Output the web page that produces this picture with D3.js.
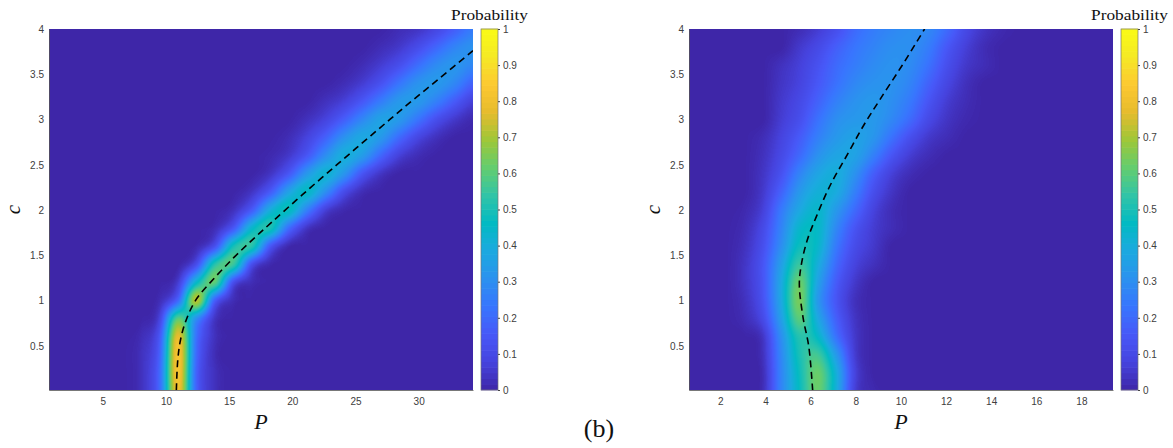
<!DOCTYPE html>
<html>
<head>
<meta charset="utf-8">
<script src="https://cdn.jsdelivr.net/npm/d3@7"></script>
<style>
  body { margin: 0; background: #fff; }
  svg { display: block; }
  .tick text { font-family: "Liberation Sans", Arial, sans-serif; font-size: 10px; fill: #404040; }
  .lbl { font-family: "Liberation Serif", "DejaVu Serif", serif; fill: #111; }
</style>
</head>
<body>
<div id="chart"></div>
<script>
// rows of the probability grid (c values)
var cLevels = [0, 0.2, 0.4, 0.6, 0.8, 1.0, 1.2, 1.4, 1.6, 1.8, 2.0, 2.2, 2.4, 2.6, 2.8, 3.0, 3.2, 3.4, 3.6, 3.8, 4.0];

// left panel: P nodes, first non-zero node per row
var leftP = [0.74, 2.20, 3.66, 5.12, 6.58, 8.04, 9.49, 10.95, 12.41, 13.87, 15.33, 16.79, 18.25, 19.71, 21.17, 22.63, 24.08, 25.54, 27.00, 28.46, 29.92, 31.38, 32.84, 34.30];
var leftStart = [5, 5, 5, 5, 6, 6, 7, 8, 8, 9, 10, 11, 12, 12, 13, 14, 15, 16, 17, 18, 19];
var leftVals = [
  [0.03, 0.20, 0.80, 0.18, 0.03],
  [0.03, 0.20, 0.82, 0.18, 0.03],
  [0.03, 0.18, 0.82, 0.20, 0.02],
  [0.02, 0.15, 0.78, 0.22, 0.03],
  [0.08, 0.60, 0.30, 0.04],
  [0.02, 0.20, 0.72, 0.17, 0.02],
  [0.06, 0.45, 0.60, 0.12, 0.02],
  [0.12, 0.52, 0.55, 0.12, 0.01],
  [0.01, 0.13, 0.49, 0.52, 0.15, 0.01],
  [0.02, 0.15, 0.44, 0.50, 0.21, 0.04],
  [0.03, 0.16, 0.40, 0.47, 0.26, 0.07, 0.01],
  [0.04, 0.16, 0.36, 0.45, 0.30, 0.11, 0.02],
  [0.04, 0.15, 0.33, 0.42, 0.32, 0.14, 0.04],
  [0.01, 0.05, 0.15, 0.30, 0.40, 0.34, 0.19, 0.07, 0.02],
  [0.02, 0.08, 0.18, 0.31, 0.38, 0.33, 0.20, 0.09, 0.03],
  [0.03, 0.08, 0.17, 0.28, 0.36, 0.33, 0.23, 0.12, 0.05, 0.01],
  [0.03, 0.07, 0.15, 0.25, 0.33, 0.33, 0.26, 0.16, 0.07],
  [0.02, 0.06, 0.13, 0.23, 0.31, 0.33, 0.28, 0.18],
  [0.02, 0.06, 0.12, 0.21, 0.29, 0.32, 0.28],
  [0.02, 0.05, 0.11, 0.19, 0.27, 0.31],
  [0.02, 0.04, 0.09, 0.17, 0.25]
];

// right panel
var rightP = [0.61, 1.43, 2.24, 3.06, 3.88, 4.69, 5.51, 6.33, 7.14, 7.96, 8.78, 9.60, 10.41, 11.23, 12.05, 12.86, 13.68, 14.50, 15.31, 16.13, 16.95, 17.76, 18.58, 19.40];
var rightStart = [4, 4, 4, 4, 3, 3, 3, 3, 3, 3, 3, 4, 4, 4, 4, 5, 5, 5, 5, 6, 6];
var rightVals = [
  [0.02, 0.27, 0.47, 0.62, 0.40, 0.07, 0.01],
  [0.02, 0.27, 0.48, 0.62, 0.40, 0.08],
  [0.03, 0.28, 0.50, 0.56, 0.33, 0.06],
  [0.04, 0.30, 0.52, 0.45, 0.22, 0.05],
  [0.02, 0.10, 0.35, 0.60, 0.38, 0.17, 0.04],
  [0.03, 0.13, 0.38, 0.64, 0.33, 0.14, 0.03],
  [0.04, 0.14, 0.38, 0.62, 0.36, 0.16, 0.05],
  [0.04, 0.14, 0.35, 0.55, 0.40, 0.20, 0.08, 0.03],
  [0.03, 0.12, 0.30, 0.48, 0.44, 0.24, 0.11, 0.05],
  [0.02, 0.10, 0.27, 0.44, 0.45, 0.28, 0.14, 0.06, 0.02],
  [0.01, 0.07, 0.24, 0.38, 0.44, 0.33, 0.20, 0.08, 0.02],
  [0.05, 0.18, 0.33, 0.41, 0.39, 0.26, 0.12, 0.04],
  [0.04, 0.13, 0.27, 0.37, 0.40, 0.31, 0.17, 0.07, 0.02],
  [0.03, 0.10, 0.20, 0.31, 0.37, 0.36, 0.26, 0.14, 0.06, 0.02],
  [0.02, 0.08, 0.16, 0.26, 0.33, 0.36, 0.32, 0.22, 0.12, 0.05, 0.02],
  [0.06, 0.12, 0.22, 0.30, 0.33, 0.33, 0.28, 0.20, 0.10, 0.04, 0.01],
  [0.05, 0.10, 0.18, 0.26, 0.31, 0.33, 0.30, 0.24, 0.14, 0.06, 0.02],
  [0.04, 0.08, 0.15, 0.22, 0.28, 0.31, 0.31, 0.27, 0.18, 0.09, 0.03],
  [0.03, 0.07, 0.13, 0.20, 0.25, 0.29, 0.31, 0.29, 0.22, 0.12, 0.05, 0.02],
  [0.05, 0.10, 0.17, 0.23, 0.27, 0.30, 0.30, 0.25, 0.15, 0.07, 0.02],
  [0.02, 0.06, 0.12, 0.20, 0.25, 0.28, 0.30, 0.28, 0.20, 0.10, 0.04, 0.01]
];

// dashed curves
var leftCurveP = [10.82, 10.93, 11.14, 11.53, 12.33, 13.9, 15.4, 16.9, 18.4, 20.8, 23.6, 26.2, 28.9, 31.6, 34.3];
var leftCurveC = [0.01, 0.34, 0.56, 0.76, 1.0, 1.26, 1.48, 1.68, 1.87, 2.17, 2.51, 2.82, 3.14, 3.45, 3.76];
var rightCurveP = [6.09, 5.92, 5.66, 5.5, 5.59, 5.84, 6.29, 6.88, 7.62, 8.36, 9.07, 10.06, 11.05];
var rightCurveC = [0.01, 0.49, 0.82, 1.18, 1.4, 1.66, 1.95, 2.28, 2.61, 2.94, 3.22, 3.6, 4.0];

var leftTicks = [5, 10, 15, 20, 25, 30];
var rightTicks = [2, 4, 6, 8, 10, 12, 14, 16, 18];
var cTicks = [0.5, 1, 1.5, 2, 2.5, 3, 3.5, 4];
var barTicks = [0, 0.1, 0.2, 0.3, 0.4, 0.5, 0.6, 0.7, 0.8, 0.9, 1];

// parula
var parula = ["#3e26a8", "#4643de", "#4758f8", "#3875fe", "#2b91ef", "#1ca9e0", "#02bac3",
              "#31c4a7", "#63cd6f", "#9ec738", "#e6bb2d", "#fdc932", "#f5e925", "#f9fb15"];
var color = d3.scaleLinear()
    .domain(parula.map(function(d, i) { return i / (parula.length - 1); }))
    .range(parula).interpolate(d3.interpolateRgb).clamp(true);

var lut = d3.range(256).map(function(i) { return d3.rgb(color(i / 255)); });
var fmt = function(d) { return String(d); };

var svg = d3.select("#chart").append("svg").attr("width", 1173).attr("height", 448);
var top0 = 29, bottom0 = 390;

function cubic(a, b, c, d, t) {
  return b + 0.5 * t * (c - a + t * (2 * a - 5 * b + 4 * c - d + t * (3 * (b - c) + d - a)));
}

function panel(left, pDomain, nodes, starts, vals, curveP, curveC, xticks, id) {
  var right = left + 424;
  var x = d3.scaleLinear().domain(pDomain).range([left, right]);
  var y = d3.scaleLinear().domain([0.013, 4]).range([bottom0, top0]);

  var grid = cLevels.map(function(c, j) {
    var row = nodes.map(function() { return 0; });
    vals[j].forEach(function(v, k) { row[starts[j] + k] = v; });
    return row;
  });
  var ni = nodes.length, nj = cLevels.length;
  var gi = d3.scaleLinear().domain([nodes[0], nodes[ni - 1]]).range([0, ni - 1]);
  var gj = d3.scaleLinear().domain([cLevels[0], cLevels[nj - 1]]).range([0, nj - 1]);
  function g(i, j) {
    i = Math.max(0, Math.min(ni - 1, i));
    j = Math.max(0, Math.min(nj - 1, j));
    return grid[j][i];
  }
  function sample(fi, fj) {
    var i = Math.floor(fi), j = Math.floor(fj), ti = fi - i, tj = fj - j;
    var r = [];
    for (var m = -1; m <= 2; m++) {
      r.push(cubic(g(i - 1, j + m), g(i, j + m), g(i + 1, j + m), g(i + 2, j + m), ti));
    }
    return cubic(r[0], r[1], r[2], r[3], tj);
  }

  var w = right - left, h = bottom0 - top0;
  var canvas = document.createElement("canvas");
  canvas.width = w; canvas.height = h;
  var ctx = canvas.getContext("2d");
  var img = ctx.createImageData(w, h);
  for (var py = 0; py < h; py++) {
    var fj = gj(y.invert(top0 + py + 0.5));
    for (var px = 0; px < w; px++) {
      var v = sample(gi(x.invert(left + px + 0.5)), fj);
      var col = lut[Math.max(0, Math.min(255, Math.round(v * 255)))];
      var o = (py * w + px) * 4;
      img.data[o] = col.r; img.data[o + 1] = col.g; img.data[o + 2] = col.b; img.data[o + 3] = 255;
    }
  }
  ctx.putImageData(img, 0, 0);
  svg.append("image").attr("x", left).attr("y", top0).attr("width", w).attr("height", h)
    .attr("preserveAspectRatio", "none").attr("href", canvas.toDataURL());

  svg.append("clipPath").attr("id", id).append("rect")
    .attr("x", left).attr("y", top0).attr("width", w).attr("height", h);

  var line = d3.line()
    .x(function(d) { return x(d[0]); })
    .y(function(d) { return y(d[1]); })
    .curve(d3.curveCatmullRom);
  svg.append("path")
    .datum(curveP.map(function(p, i) { return [p, curveC[i]]; }))
    .attr("clip-path", "url(#" + id + ")")
    .attr("d", line)
    .attr("fill", "none").attr("stroke", "#000").attr("stroke-width", 1.6)
    .attr("stroke-dasharray", "7,4.5");

  var ax = svg.append("g").attr("transform", "translate(0," + bottom0 + ")")
    .call(d3.axisBottom(x).tickValues(xticks).tickSize(0).tickSizeOuter(0).tickPadding(8).tickFormat(fmt));
  var ay = svg.append("g").attr("transform", "translate(" + left + ",0)")
    .call(d3.axisLeft(y).tickValues(cTicks).tickSize(0).tickSizeOuter(0).tickPadding(5).tickFormat(fmt));
  [ax, ay].forEach(function(a) { a.select(".domain").attr("stroke", "#555").attr("stroke-width", 0.8); });

  svg.append("text").attr("class", "lbl")
    .attr("x", (left + right) / 2).attr("y", 429)
    .attr("text-anchor", "middle").attr("font-style", "italic").attr("font-size", 22).text("P");
  svg.append("text").attr("class", "lbl")
    .attr("transform", "translate(" + (left - 29.5) + "," + ((top0 + bottom0) / 2) + ") rotate(-90)")
    .attr("text-anchor", "middle").attr("font-style", "italic").attr("font-size", 21).text("c");

  // colour bar
  var cbL = right + 8, cbW = 17;
  var yb = d3.scaleLinear().domain([0, 1]).range([bottom0, top0]);
  var steps = d3.range(64).map(function(i) { return i / 64; });
  svg.append("g").selectAll("rect").data(steps).enter().append("rect")
    .attr("x", cbL).attr("width", cbW)
    .attr("y", function(d) { return yb(d + 1 / 64) - 0.3; })
    .attr("height", function(d) { return yb(d) - yb(d + 1 / 64) + 0.6; })
    .attr("fill", function(d) { return color(d + 0.5 / 64); });
  svg.append("rect").attr("x", cbL).attr("y", top0).attr("width", cbW).attr("height", h)
    .attr("fill", "none").attr("stroke", "#777").attr("stroke-width", 0.7);
  var ab = svg.append("g").attr("transform", "translate(" + (cbL + cbW) + ",0)")
    .call(d3.axisRight(yb).tickValues(barTicks).tickSize(2).tickSizeOuter(0).tickPadding(3).tickFormat(fmt));
  ab.select(".domain").remove();
  ab.selectAll(".tick line").attr("stroke", "#444");
  svg.append("text").attr("class", "lbl")
    .attr("x", cbL + cbW / 2).attr("y", 20).attr("text-anchor", "middle")
    .attr("font-size", 15).attr("textLength", 77).attr("lengthAdjust", "spacingAndGlyphs")
    .text("Probability");
}

panel(49, [0.74, 34.3], leftP, leftStart, leftVals, leftCurveP, leftCurveC, leftTicks, "clipL");
panel(689, [0.61, 19.4], rightP, rightStart, rightVals, rightCurveP, rightCurveC, rightTicks, "clipR");

svg.append("text").attr("class", "lbl")
  .attr("x", 599).attr("y", 437).attr("text-anchor", "middle")
  .attr("font-size", 26).text("(b)");
</script>
</body>
</html>
